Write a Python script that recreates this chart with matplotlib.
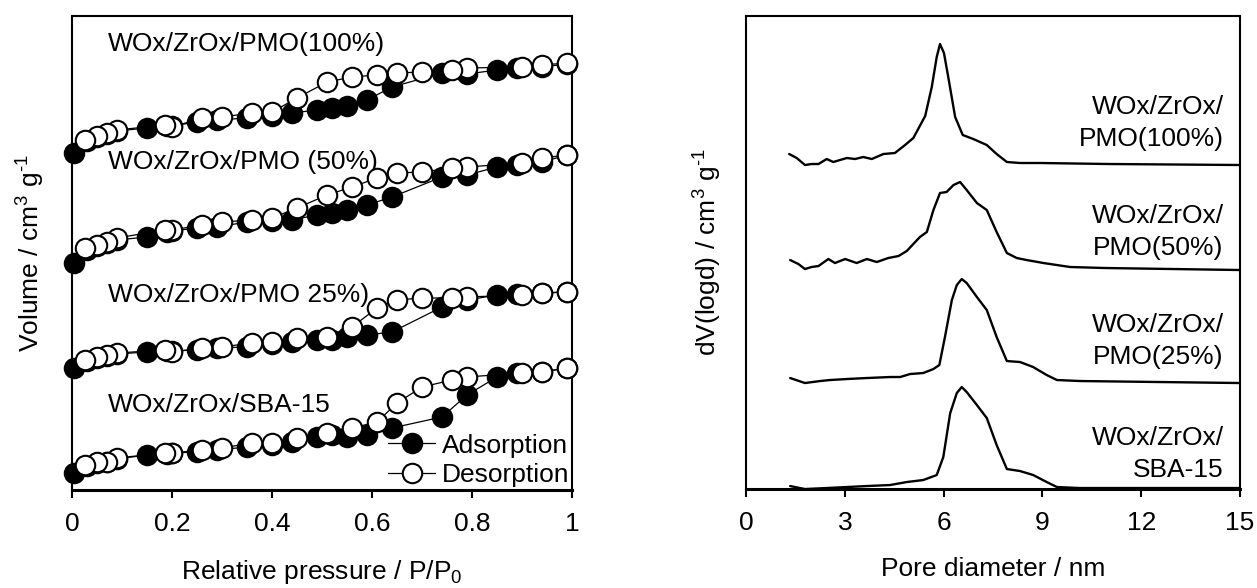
import matplotlib.pyplot as plt

plt.rcParams['font.family'] = ['Liberation Sans', 'DejaVu Sans']
plt.rcParams['mathtext.fontset'] = 'custom'
plt.rcParams['mathtext.rm'] = 'Liberation Sans'
plt.rcParams['mathtext.it'] = 'Liberation Sans'

# ---------------- N2 isotherms (stacked, arbitrary units) ----------------
p_ads = [0.003, 0.03, 0.05, 0.07, 0.09, 0.15, 0.19, 0.20, 0.25, 0.29, 0.35, 0.40,
         0.44, 0.49, 0.52, 0.55, 0.59, 0.64, 0.74, 0.79, 0.85, 0.89, 0.94, 0.99]
p_des = [0.99, 0.94, 0.90, 0.79, 0.76, 0.70, 0.65, 0.61, 0.56, 0.51, 0.45, 0.40,
         0.36, 0.30, 0.26, 0.20, 0.185, 0.09, 0.07, 0.05, 0.026]

iso_labels = ["WOx/ZrOx/PMO(100%)", "WOx/ZrOx/PMO (50%)",
              "WOx/ZrOx/PMO 25%)", "WOx/ZrOx/SBA-15"]

ads_100 = [337, 349, 353, 356, 359, 362, 364, 364, 368, 370, 372, 374,
           377, 380, 382, 384, 390, 403, 417, 416, 420, 422, 423, 426]
des_100 = [427, 425, 423, 422, 420, 418, 417, 415, 413, 408, 392, 378,
           377, 373, 372, 363, 365, 360, 357, 354, 350]
ads_50 = [227, 240, 244, 247, 250, 253, 258, 259, 262, 263, 268, 269,
          270, 275, 277, 280, 285, 293, 313, 315, 323, 325, 328, 335]
des_50 = [335, 332, 327, 323, 322, 318, 317, 312, 303, 295, 282, 272,
          270, 268, 265, 260, 260, 252, 248, 245, 242]
ads_25 = [122, 129, 132, 134, 136, 138, 139, 139, 140, 142, 143, 146,
          148, 150, 150, 153, 155, 158, 183, 190, 195, 196, 197, 198]
des_25 = [198, 197, 195, 193, 192, 192, 190, 182, 163, 153, 152, 148,
          147, 143, 142, 138, 140, 137, 135, 133, 130]
ads_sba = [17, 24, 27, 28, 31, 35, 36, 37, 38, 40, 43, 45,
           48, 53, 55, 53, 55, 62, 73, 95, 113, 117, 118, 122]
des_sba = [122, 118, 117, 113, 110, 103, 87, 68, 62, 57, 52, 47,
           47, 42, 40, 37, 37, 32, 28, 28, 25]

ads_all = [ads_100, ads_50, ads_25, ads_sba]
des_all = [des_100, des_50, des_25, des_sba]
iso_label_y = [446, 328, 195, 85]

# ---------------- pore size distributions (stacked) ----------------
psd_labels = ["WOx/ZrOx/\nPMO(100%)", "WOx/ZrOx/\nPMO(50%)",
              "WOx/ZrOx/\nPMO(25%)", "WOx/ZrOx/\nSBA-15"]

d_100 = [1.31, 1.54, 1.79, 1.99, 2.2, 2.45, 2.65, 3.06, 3.31, 3.56, 3.82, 4.17,
         4.52, 4.83, 5.08, 5.44, 5.64, 5.79, 5.89, 6.01, 6.14, 6.35, 6.58, 6.9,
         7.31, 7.61, 7.92, 8.32, 8.93, 11.0, 15.0]
v_100 = [335, 331, 324, 325, 325, 330, 327, 331, 330, 332, 330, 335,
         336, 344, 351, 373, 402, 432, 445, 436, 412, 372, 354, 350,
         344, 335, 327, 326, 326, 325, 324]
d_50 = [1.34, 1.59, 1.79, 1.99, 2.2, 2.5, 2.7, 3.01, 3.36, 3.67, 3.97, 4.32,
        4.63, 4.88, 5.28, 5.49, 5.69, 5.89, 6.09, 6.3, 6.5, 6.7, 7.01, 7.31,
        7.61, 7.92, 8.22, 8.52, 9.03, 9.84, 10.9, 15.0]
v_50 = [229, 225, 220, 222, 223, 230, 226, 230, 226, 230, 227, 231,
        233, 238, 252, 257, 279, 296, 297, 304, 307, 299, 286, 279,
        257, 236, 231, 229, 226, 222, 221, 219]
d_25 = [1.34, 1.79, 2.25, 2.55, 3.06, 3.67, 4.37, 4.68, 4.98, 5.38, 5.69, 5.87,
        6.04, 6.25, 6.4, 6.55, 6.7, 7.01, 7.31, 7.61, 7.92, 8.32, 8.72, 9.13,
        9.44, 10.14, 15.0]
v_25 = [111, 106, 108, 109, 110, 111, 112, 112, 115, 116, 120, 124,
        152, 189, 204, 210, 206, 192, 179, 152, 128, 127, 122, 114,
        109, 108, 106]
d_sba = [1.34, 1.79, 2.45, 3.06, 3.67, 4.37, 4.88, 5.38, 5.79, 5.99, 6.2, 6.4,
         6.55, 6.7, 7.01, 7.31, 7.61, 7.92, 8.32, 8.72, 9.13, 9.44, 10.14, 15.0]
v_sba = [3, 0, 1, 2, 3, 4, 7, 9, 14, 32, 76, 96,
         102, 97, 84, 71, 44, 20, 18, 14, 7, 2, 1, 1]

d_all = [d_100, d_50, d_25, d_sba]
v_all = [v_100, v_50, v_25, v_sba]
psd_label_y = [366, 257, 148, 35]

FS = 19

fig = plt.figure(figsize=(12.57, 5.88), dpi=100)
ax1 = fig.add_axes([0.0573, 0.1667, 0.3978, 0.8061])
ax2 = fig.add_axes([0.5935, 0.1683, 0.3930, 0.8045])

# --- left: isotherms ---
for i in range(4):
    la, = ax1.plot(p_ads, ads_all[i], color='black', linewidth=0.9, marker='o',
                   markersize=14, markerfacecolor='black', markeredgecolor='black',
                   markeredgewidth=1.5, clip_on=False, label='Adsorption', zorder=3)
    ld, = ax1.plot(p_des, des_all[i], color='black', linewidth=0.9, marker='o',
                   markersize=14, markerfacecolor='white', markeredgecolor='black',
                   markeredgewidth=1.5, clip_on=False, label='Desorption', zorder=4)
    ax1.text(0.072, iso_label_y[i], iso_labels[i], fontsize=FS, va='center',
             ha='left', zorder=2)
    if i == 0:
        handles = [la, ld]

ax1.set_xlim(0, 1)
ax1.set_ylim(0, 474)
ax1.set_xticks([0, 0.2, 0.4, 0.6, 0.8, 1.0])
ax1.set_xticklabels(['0', '0.2', '0.4', '0.6', '0.8', '1'])
ax1.set_yticks([])
ax1.set_xlabel('Relative pressure / P/P$_0$', fontsize=FS, labelpad=16)
ax1.set_ylabel(r'Volume / cm$^3$ g$^{\text{-1}}$', fontsize=FS, labelpad=18)
ax1.legend(handles=handles, loc='lower right', frameon=False, fontsize=FS,
           handlelength=1.8, handletextpad=0.25, labelspacing=0.22,
           borderaxespad=0.0, borderpad=0.1)

# --- right: PSD ---
for i in range(4):
    ax2.plot(d_all[i], v_all[i], color='black', linewidth=1.7, zorder=3,
             solid_joinstyle='round', solid_capstyle='round')
    ax2.text(14.5, psd_label_y[i], psd_labels[i], fontsize=FS, ha='right',
             va='center', linespacing=1.45)

ax2.set_xlim(0, 15)
ax2.set_ylim(0, 473)
ax2.set_xticks([0, 3, 6, 9, 12, 15])
ax2.set_yticks([])
ax2.set_xlabel('Pore diameter / nm', fontsize=FS, labelpad=16)
ax2.set_ylabel(r'dV(logd) / cm$^3$ g$^{\text{-1}}$', fontsize=FS, labelpad=16)

for ax in (ax1, ax2):
    for side, sp in ax.spines.items():
        sp.set_linewidth(1.5)
    ax.spines['bottom'].set_linewidth(2.2)
    ax.tick_params(axis='x', direction='out', length=6, width=1.5,
                   labelsize=FS, pad=10)

fig.savefig('out.png', dpi=100, facecolor='white')
